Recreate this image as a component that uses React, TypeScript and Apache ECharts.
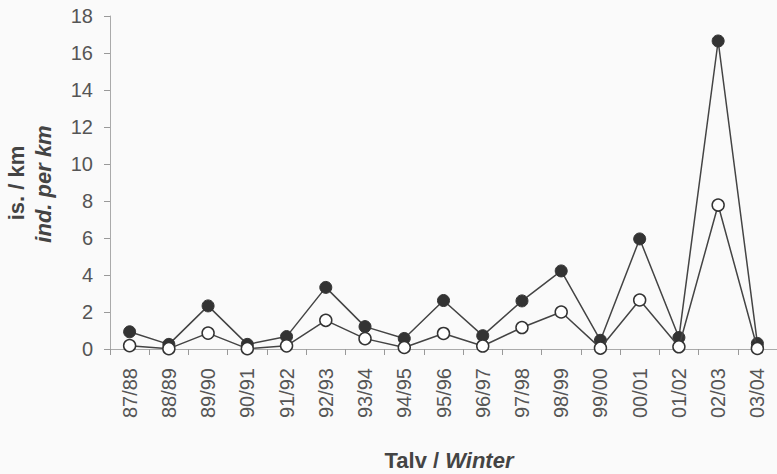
import React, { useEffect, useRef } from "react";
import * as echarts from "echarts";

const winters = ["87/88","88/89","89/90","90/91","91/92","92/93","93/94","94/95","95/96","96/97","97/98","98/99","99/00","00/01","01/02","02/03","03/04"];
const filledValues = [0.93, 0.25, 2.33, 0.25, 0.67, 3.33, 1.21, 0.57, 2.62, 0.72, 2.6, 4.22, 0.47, 5.95, 0.62, 16.65, 0.3];
const openValues = [0.18, 0.02, 0.86, 0.02, 0.17, 1.55, 0.56, 0.08, 0.84, 0.16, 1.16, 2.0, 0.05, 2.65, 0.12, 7.78, 0.03];
const yTicks = { min: 0, max: 18, interval: 2 };

export default function App() {
  const ref = useRef<HTMLDivElement>(null);
  useEffect(() => {
    if (!ref.current) return;
    const chart = echarts.init(ref.current, undefined, { renderer: "svg" });
    const font = "'Liberation Sans', Arial, sans-serif";
    chart.setOption({
      animation: false,
      backgroundColor: "#fafafa",
      grid: { left: 110, right: 0, top: 16, bottom: 125 },
      xAxis: {
        type: "category",
        data: winters,
        boundaryGap: true,
        axisLine: { lineStyle: { color: "#aaa", width: 1 } },
        axisTick: { show: true, length: 6, inside: false, alignWithLabel: false, lineStyle: { color: "#999" } },
        axisLabel: { rotate: 90, margin: 19, fontSize: 20, color: "#555", fontFamily: font, interval: 0 },
        splitLine: { show: false },
      },
      yAxis: {
        type: "value",
        min: yTicks.min,
        max: yTicks.max,
        interval: yTicks.interval,
        axisLine: { show: true, lineStyle: { color: "#aaa", width: 1 } },
        axisTick: { show: true, length: 6, lineStyle: { color: "#999" } },
        axisLabel: { margin: 17, fontSize: 20, color: "#555", fontFamily: font },
        splitLine: { show: false },
      },
      graphic: [
        {
          type: "text",
          x: 16,
          y: 183,
          rotation: Math.PI / 2,
          style: {
            text: "is. / km",
            font: `bold 22px ${font}`,
            fill: "#444",
            align: "center",
            verticalAlign: "middle",
          },
        },
        {
          type: "text",
          x: 43,
          y: 184,
          rotation: Math.PI / 2,
          style: {
            text: "ind. per km",
            font: `italic bold 22px ${font}`,
            fill: "#444",
            align: "center",
            verticalAlign: "middle",
          },
        },
        {
          type: "text",
          x: 449,
          y: 460,
          style: {
            text: "{a|Talv / }{b|Winter}",
            align: "center",
            verticalAlign: "middle",
            rich: {
              a: { font: `bold 22px ${font}`, fill: "#444" },
              b: { font: `italic bold 22px ${font}`, fill: "#444" },
            },
          },
        },
      ],
      series: [
        {
          type: "line",
          data: filledValues,
          symbol: "circle",
          symbolSize: 12,
          lineStyle: { color: "#444", width: 1.5 },
          itemStyle: { color: "#333", borderColor: "#333", borderWidth: 1 },
          z: 2,
        },
        {
          type: "line",
          data: openValues,
          symbol: "circle",
          symbolSize: 12,
          lineStyle: { color: "#444", width: 1.5 },
          itemStyle: { color: "#fff", borderColor: "#333", borderWidth: 1.5 },
          z: 3,
        },
      ],
    });
    return () => chart.dispose();
  }, []);
  return (
    <div
      ref={ref}
      style={{ position: "fixed", left: 0, top: 0, width: 777, height: 474 }}
    />
  );
}
